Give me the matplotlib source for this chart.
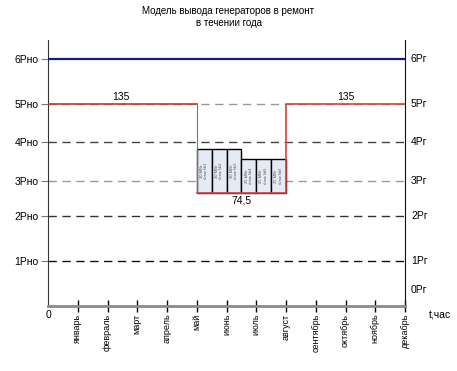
import matplotlib.pyplot as plt
from matplotlib.patches import Rectangle

plt.rcParams['font.family'] = ['Liberation Sans', 'DejaVu Sans']

months = ['январь', 'февраль', 'март', 'апрель', 'май', 'июнь', 'июль',
          'август', 'сентябрь', 'октябрь', 'ноябрь', 'декабрь']
# schematic heights of the levels (chart is not to scale)
level_pos = [45, 90, 125, 164, 202, 247]
left_labels = ['1Рно', '2Рно', '3Рно', '4Рно', '5Рно', '6Рно']
right_labels = ['0Рг', '1Рг', '2Рг', '3Рг', '4Рг', '5Рг', '6Рг']
right_pos = [16] + level_pos
dash_colors = ['#111111', '#333333', '#9a9a9a', '#444444', '#999999']

# power line (red): full 135 outside repair, 74,5 during May - August
power_x = [0, 5, 5, 8, 8, 12]
power_y = [202, 202, 113, 113, 202, 202]
power_text = ['135', '74,5', '135']
power_text_x = [2.45, 6.5, 10.0]
power_text_y = [204, 111, 204]

# units in repair, half a month each, starting in May
unit_start = [5.0, 5.5, 6.0, 6.5, 7.0, 7.5]
unit_top = [157, 157, 157, 147, 147, 147]
unit_labels = ['30 МВт\nблок №1', '30 МВт\nблок №2', '30 МВт\nблок №3',
               '25 МВт\nблок №4', '25 МВт\nблок №5', '25 МВт\nблок №6']

fig = plt.figure(figsize=(4.57, 3.71), dpi=100)
ax = fig.add_axes([48 / 457, 65 / 371, 357 / 457, 266 / 371])
ax.set_xlim(0, 12)
ax.set_ylim(0, 266)

# dashed level lines
for y, c in zip(level_pos[:5], dash_colors):
    ax.plot([0, 12], [y, y], color=c, lw=1, dashes=(6, 4), zorder=1)
# installed capacity line
ax.plot([0, 12], [level_pos[5]] * 2, color='#1a1a80', lw=1.6, zorder=3)

# repair boxes
for x0, top, lab in zip(unit_start, unit_top, unit_labels):
    ax.add_patch(Rectangle((x0, 113), 0.5, top - 113, facecolor='#e6eaf4',
                           edgecolor='black', lw=1, zorder=2))
    ax.text(x0 + 0.25, (113 + top) / 2, lab, rotation=90, fontsize=3,
            ha='center', va='center', color='#555555', zorder=4)

ax.plot(power_x[:2], power_y[:2], color='#c0392b', lw=1.2, zorder=3)
ax.plot(power_x[1:3], power_y[1:3], color='#777777', lw=0.8, zorder=3)
ax.plot(power_x[2:], power_y[2:], color='#d94040', lw=1.2, zorder=3)
for t, x, y in zip(power_text, power_text_x, power_text_y):
    ax.text(x, y, t, fontsize=7.5, ha='center',
            va='bottom' if y > 150 else 'top')

ax.spines['top'].set_visible(False)
ax.spines['left'].set_color('#333333')
ax.spines['right'].set_color('#111111')
ax.spines['bottom'].set_color('#8a8a8a')
ax.spines['bottom'].set_linewidth(2)

ax.set_xticks(range(1, 13))
ax.set_xticklabels(months, rotation=90, fontsize=6.5, va='top')
ax.tick_params(axis='x', direction='inout', length=9, width=1, color='black', pad=1)
ax.set_yticks(level_pos)
ax.set_yticklabels(left_labels, fontsize=7.5)
ax.tick_params(axis='y', direction='out', length=5, color='#777777', pad=2)

for t, y in zip(right_labels, right_pos):
    ax.text(12.2, y, t, fontsize=7.5, va='center', ha='left')
ax.text(0, -4, '0', fontsize=7.5, ha='center', va='top')
ax.text(12.8, -4, 't,час', fontsize=7.5, ha='left', va='top', clip_on=False)

fig.text(0.5, 1 - 6 / 371, 'Модель вывода генераторов в ремонт\nв течении года',
         fontsize=7, ha='center', va='top', linespacing=1.3)

fig.savefig('out.png', dpi=100)
